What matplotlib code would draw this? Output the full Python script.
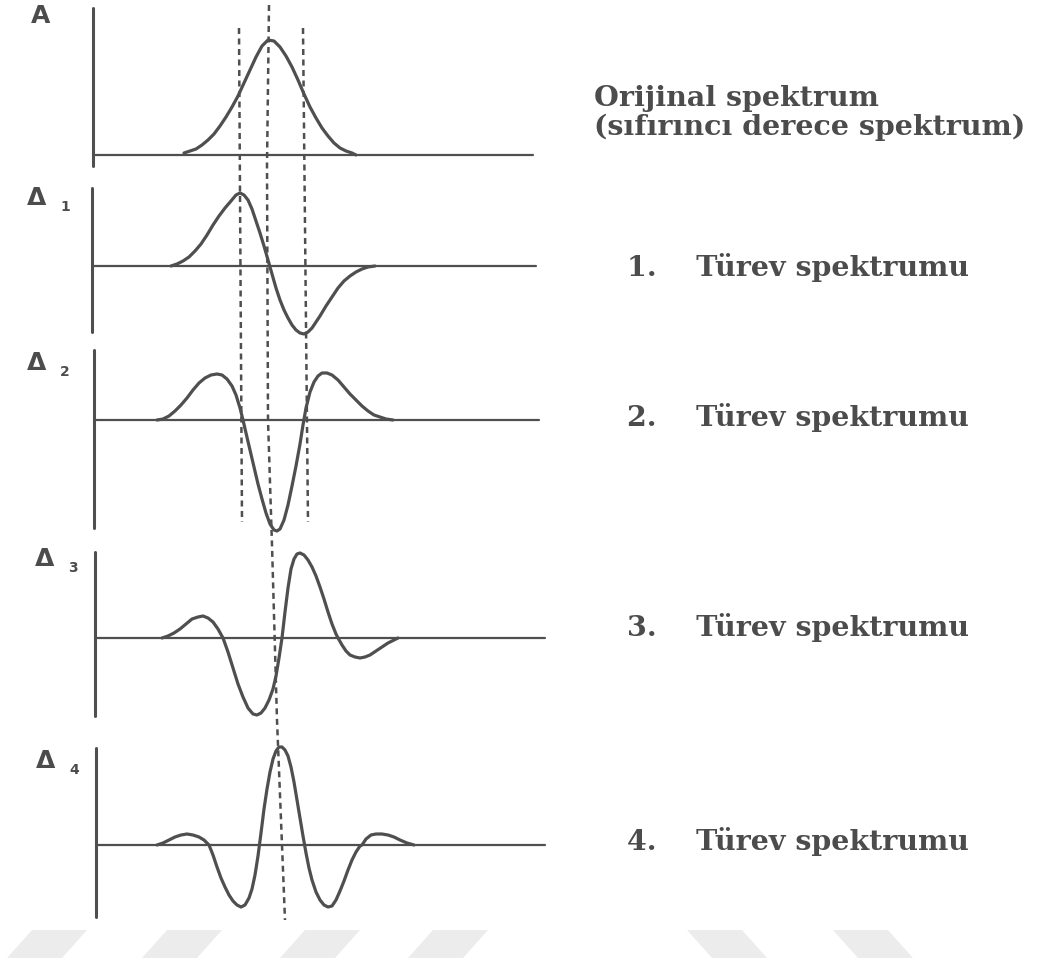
import matplotlib
matplotlib.use("Agg")
import matplotlib.pyplot as plt
from matplotlib.patches import Polygon

# ---------------------------------------------------------------------------
# Data: a spectral band and its 1st-4th derivative spectra
# x: wavelength position (shared horizontal scale), y: signal amplitude
# ---------------------------------------------------------------------------
orig_x = [184, 190, 196, 202, 208, 214, 220, 226, 232, 238, 244, 250, 256, 262,
          268, 274, 280, 286, 292, 298, 304, 310, 316, 322, 328, 334, 340, 346,
          352, 356]
orig_y = [2, 4, 6, 10, 15, 21, 29, 38, 48, 59, 72, 85, 98, 109,
          115, 114, 108, 99, 88, 75, 61, 48, 37, 27, 19, 12, 7, 4,
          2, 0]

d1_x = [171, 177, 183, 189, 195, 201, 207, 213, 219, 225, 231, 236, 240, 244,
        248, 252, 256, 260, 264, 268, 272, 276, 280, 284, 288, 292, 296, 300,
        304, 308, 312, 316, 320, 326, 332, 338, 344, 350, 356, 362, 368, 375]
d1_y = [0, 2, 5, 9, 15, 22, 31, 41, 50, 58, 65, 71, 73, 71,
        66, 57, 45, 33, 20, 6, -8, -22, -34, -44, -52, -59, -64, -67,
        -68, -66, -62, -56, -50, -40, -31, -22, -15, -10, -6, -3, -1, 0]

d2_x = [157, 163, 169, 175, 181, 187, 193, 199, 205, 211, 217, 222, 227, 232,
        236, 240, 243, 246, 250, 254, 258, 262, 266, 270, 274, 277, 280, 284,
        288, 292, 296, 300, 303, 306, 310, 314, 318, 322, 327, 332, 338, 344,
        350, 356, 362, 368, 374, 380, 386, 393]
d2_y = [0, 1, 4, 9, 15, 22, 30, 37, 42, 45, 46, 45, 41, 34,
        25, 12, 0, -13, -30, -47, -64, -79, -93, -104, -110, -111, -109, -100,
        -85, -66, -46, -24, -5, 12, 28, 38, 44, 47, 47, 45, 40, 33,
        26, 20, 14, 9, 5, 3, 1, 0]

d3_x = [162, 168, 174, 180, 186, 192, 198, 203, 208, 213, 218, 223, 228, 233,
        238, 243, 248, 253, 257, 261, 265, 269, 273, 276, 279, 282, 285, 288,
        291, 294, 297, 300, 304, 308, 312, 316, 320, 324, 328, 332, 336, 338,
        342, 346, 350, 355, 360, 365, 370, 376, 382, 388, 394, 398]
d3_y = [0, 2, 5, 9, 14, 19, 21, 22, 20, 16, 9, 0, -14, -30,
        -46, -59, -70, -76, -77, -75, -70, -62, -51, -38, -20, 0, 26, 50,
        69, 79, 84, 85, 83, 78, 71, 62, 51, 39, 26, 14, 4, 0,
        -7, -13, -17, -19, -20, -19, -17, -13, -9, -5, -2, 0]

d4_x = [157, 163, 169, 175, 181, 187, 193, 199, 204, 209, 213, 217, 221, 225,
        229, 233, 237, 241, 245, 249, 252, 255, 258, 261, 264, 267, 270, 273,
        276, 279, 282, 285, 288, 291, 294, 297, 300, 303, 306, 309, 312, 316,
        320, 324, 328, 332, 336, 340, 344, 348, 352, 356, 360, 362, 366, 371,
        376, 382, 388, 394, 400, 407, 414]
d4_y = [0, 2, 5, 8, 10, 11, 10, 8, 5, 0, -10, -22, -33, -42,
        -50, -56, -60, -62, -60, -53, -44, -30, -11, 12, 36, 56, 73, 86,
        94, 98, 98, 95, 89, 78, 63, 45, 27, 9, -8, -23, -35, -47,
        -55, -60, -62, -61, -55, -46, -36, -25, -15, -7, -1, 0, 6, 10,
        11, 11, 10, 8, 5, 2, 0]

series_x = [orig_x, d1_x, d2_x, d3_x, d4_x]
series_y = [orig_y, d1_y, d2_y, d3_y, d4_y]
panel_symbols = ["A", "\u0394", "\u0394", "\u0394", "\u0394"]
panel_subscripts = ["", "1", "2", "3", "4"]
captions = [
    ["Orijinal spektrum", "(s\u0131f\u0131r\u0131nc\u0131 derece spektrum)"],
    ["1.    T\u00fcrev spektrumu"],
    ["2.    T\u00fcrev spektrumu"],
    ["3.    T\u00fcrev spektrumu"],
    ["4.    T\u00fcrev spektrumu"],
]

# ---------------------------------------------------------------------------
# Layout (pixel positions on a 1044 x 963 canvas)
# ---------------------------------------------------------------------------
W, H = 1044, 963
INK = "#4f4f4f"
TEXT = "#4c4c4c"

# baseline row, axis column, axis top/bottom, baseline right end
panels = [
    dict(base=155, ax_x=93, top=8, bottom=166, end=533, label=(31, 16), cap_y=[99, 127], cap_x=594),
    dict(base=266, ax_x=92, top=188, bottom=332, end=536, label=(27, 198), cap_y=[267], cap_x=627),
    dict(base=420, ax_x=94, top=350, bottom=528, end=539, label=(27, 363), cap_y=[418], cap_x=627),
    dict(base=638, ax_x=95, top=552, bottom=716, end=545, label=(35, 559), cap_y=[628], cap_x=627),
    dict(base=845, ax_x=96, top=748, bottom=917, end=545, label=(36, 761), cap_y=[842], cap_x=627),
]

fig = plt.figure(figsize=(W / 100, H / 100), dpi=100)
fig.patch.set_facecolor("white")

# canvas axes in pixel units for guide lines, labels and background marks
canvas = fig.add_axes([0, 0, 1, 1], zorder=0)
canvas.set_xlim(0, W)
canvas.set_ylim(H, 0)
canvas.axis("off")

# faint diagonal bands along the bottom edge
band_left = [7, 142, 280, 408]
band_right = [712, 858]
band_w, band_top, band_bot, band_shift = 55, 930, 958, 25
for x0 in band_left:
    canvas.add_patch(Polygon([(x0, band_bot), (x0 + band_w, band_bot),
                              (x0 + band_w + band_shift, band_top), (x0 + band_shift, band_top)],
                             closed=True, facecolor="#ececec", edgecolor="none"))
for x0 in band_right:
    canvas.add_patch(Polygon([(x0, band_bot), (x0 + band_w, band_bot),
                              (x0 + band_w - band_shift, band_top), (x0 - band_shift, band_top)],
                             closed=True, facecolor="#ececec", edgecolor="none"))

# one axes per spectrum; y data = amplitude above the baseline
for p, xs, ys, sym, sub, cap in zip(panels, series_x, series_y,
                                     panel_symbols, panel_subscripts, captions):
    lo, hi = p["top"] - 6, p["bottom"] + 6
    ax = fig.add_axes([0, 1 - hi / H, 1, (hi - lo) / H], zorder=2)
    ax.set_xlim(0, W)
    ax.set_ylim(p["base"] - hi, p["base"] - lo)
    ax.patch.set_alpha(0)
    for s in ("top", "right"):
        ax.spines[s].set_visible(False)
    ax.spines["left"].set_position(("data", p["ax_x"]))
    ax.spines["left"].set_bounds(p["base"] - p["bottom"], p["base"] - p["top"])
    ax.spines["bottom"].set_position(("data", 0))
    ax.spines["bottom"].set_bounds(p["ax_x"], p["end"])
    ax.spines["left"].set_linewidth(2.2)
    ax.spines["bottom"].set_linewidth(1.6)
    for s in ("left", "bottom"):
        ax.spines[s].set_color(INK)
        ax.spines[s].set_capstyle("round")
    ax.set_xticks([])
    ax.set_yticks([])
    ax.plot(xs, ys, color=INK, lw=2.3, solid_capstyle="round", solid_joinstyle="round")

    lx, ly = p["label"]
    canvas.text(lx, ly, sym, fontsize=18, fontweight="bold", color=TEXT,
                family="DejaVu Sans", va="center", ha="left")
    if sub:
        canvas.text(lx + 33, ly + 9, sub, fontsize=10, fontweight="bold", color=TEXT,
                    family="DejaVu Sans", va="center", ha="left")
    for line, cy in zip(cap, p["cap_y"]):
        canvas.text(p["cap_x"], cy, line, fontsize=20.5, fontweight="bold", color=TEXT,
                    family="DejaVu Serif", va="center", ha="left")

# dashed guide lines through the band centre and the inflection points
guide_paths = [
    ([239, 242], [28, 522]),
    ([269, 267, 268, 272, 277, 285], [5, 165, 420, 545, 720, 920]),
    ([303, 308], [28, 522]),
]
overlay = fig.add_axes([0, 0, 1, 1], zorder=3)
overlay.set_xlim(0, W)
overlay.set_ylim(H, 0)
overlay.axis("off")
overlay.patch.set_alpha(0)
for gx, gy in guide_paths:
    overlay.plot(gx, gy, color=INK, lw=1.8, dashes=(2.4, 1.8))

fig.savefig("out.png", dpi=100, facecolor="white")
